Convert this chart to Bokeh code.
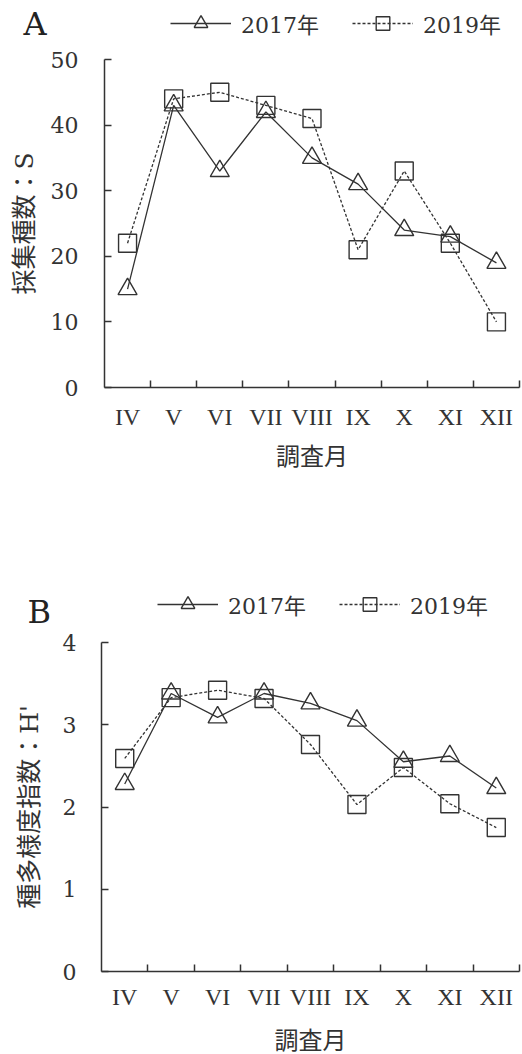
from bokeh.plotting import figure
from bokeh.models import FixedTicker, Legend, LegendItem, Label, Range1d
from bokeh.layouts import column
from bokeh.embed import file_html
from bokeh.resources import INLINE

months = ["IV", "V", "VI", "VII", "VIII", "IX", "X", "XI", "XII"]
a_2017 = [15, 43, 33, 42, 35, 31, 24, 23, 19]
a_2019 = [22, 44, 45, 43, 41, 21, 33, 22, 10]
b_2017 = [2.28, 3.38, 3.09, 3.38, 3.26, 3.05, 2.55, 2.62, 2.23]
b_2019 = [2.59, 3.33, 3.42, 3.32, 2.76, 2.03, 2.48, 2.04, 1.75]
a_ticks = [0, 10, 20, 30, 40, 50]
b_ticks = [0, 1, 2, 3, 4]
series_labels = ["2017年", "2019年"]
x_label = "調査月"

NUM_FONT = "DejaVu Serif, Noto Sans CJK JP"
ROMAN_FONT = "Liberation Serif, Noto Sans CJK JP"
INK = "#333333"
W = 522

LINE17 = dict(line_color=INK, line_width=1.3)
LINE19 = dict(line_color=INK, line_width=1.3, line_dash="3 2")
MARK17 = dict(marker="triangle", size=19, line_color=INK, line_width=1.4, fill_color=None)
MARK19 = dict(marker="square", size=18, line_color=INK, line_width=1.4, fill_color=None)


def panel(letter, ylabel, s17, s19, yticks, height, ax_left, ax_right, ax_top,
          ax_bottom, ylab_standoff, ylab_label_standoff, xlab_standoff,
          xlab_label_standoff, legend_xy, letter_xy):
    n = len(months)
    xs = list(range(n))
    # map the axis box (pixels) to the full canvas so the frame covers it all
    kx = (ax_right - ax_left) / n
    x0 = -0.5 - ax_left / kx
    x1 = n - 0.5 + (W - ax_right) / kx
    ky = (ax_bottom - ax_top) / (yticks[-1] - yticks[0])
    y1 = yticks[-1] + ax_top / ky
    y0 = yticks[0] - (height - ax_bottom) / ky

    p = figure(width=W, height=height,
               min_border_left=0, min_border_right=0, min_border_top=0,
               min_border_bottom=0, x_range=Range1d(x0, x1),
               y_range=Range1d(y0, y1),
               output_backend="svg", toolbar_location=None)
    p.outline_line_color = None
    p.xgrid.grid_line_color = None
    p.ygrid.grid_line_color = None
    p.background_fill_color = "white"
    p.border_fill_color = "white"

    l1 = p.line(xs, s17, **LINE17)
    m1 = p.scatter(xs, s17, **MARK17)
    l2 = p.line(xs, s19, **LINE19)
    m2 = p.scatter(xs, s19, **MARK19)

    xa = p.xaxis[0]
    xa.fixed_location = yticks[0]
    xa.bounds = (-0.5, n - 0.5)
    xa.ticker = FixedTicker(ticks=xs, minor_ticks=[i + 0.5 for i in xs])
    xa.major_label_overrides = {i: m for i, m in enumerate(months)}
    xa.major_tick_in = 0
    xa.major_tick_out = 0
    xa.minor_tick_in = 7
    xa.minor_tick_out = 0
    xa.minor_tick_line_color = INK
    xa.minor_tick_line_width = 1.5
    xa.axis_line_color = INK
    xa.axis_line_width = 1.5
    xa.major_label_text_font = ROMAN_FONT
    xa.major_label_text_font_size = "24px"
    xa.major_label_text_color = INK
    xa.major_label_standoff = xlab_standoff
    xa.axis_label = x_label
    xa.axis_label_text_font = NUM_FONT
    xa.axis_label_text_font_style = "normal"
    xa.axis_label_text_font_size = "24px"
    xa.axis_label_text_color = INK
    xa.axis_label_standoff = xlab_label_standoff

    ya = p.yaxis[0]
    ya.fixed_location = -0.5
    ya.bounds = (yticks[0], yticks[-1])
    ya.ticker = FixedTicker(ticks=yticks, minor_ticks=[])
    ya.major_tick_in = 7
    ya.major_tick_out = 0
    ya.major_tick_line_color = INK
    ya.major_tick_line_width = 1.5
    ya.axis_line_color = INK
    ya.axis_line_width = 1.5
    ya.major_label_text_font = NUM_FONT
    ya.major_label_text_font_size = "22px"
    ya.major_label_text_color = INK
    ya.major_label_standoff = ylab_standoff
    ya.axis_label = ylabel
    ya.axis_label_text_font = NUM_FONT
    ya.axis_label_text_font_style = "normal"
    ya.axis_label_text_font_size = "25px"
    ya.axis_label_text_color = INK
    ya.axis_label_standoff = ylab_label_standoff

    legend = Legend(items=[LegendItem(label=series_labels[0], renderers=[l1, m1]),
                           LegendItem(label=series_labels[1], renderers=[l2, m2])],
                    orientation="horizontal", location=legend_xy,
                    glyph_width=61, glyph_height=34, label_standoff=10,
                    spacing=33, padding=0, margin=0, border_line_color=None,
                    background_fill_alpha=0, label_text_font=NUM_FONT,
                    label_text_font_size="22px", label_text_color=INK)
    p.add_layout(legend)
    p.add_layout(Label(x=letter_xy[0], y=letter_xy[1], x_units="screen",
                       y_units="screen", text=letter, text_font=NUM_FONT,
                       text_font_size="32px", text_color="#222222",
                       text_baseline="middle", text_align="left"))
    return p


HA = 583
pA = panel("A", "採集種数：S", a_2017, a_2019, a_ticks, height=HA,
           ax_left=104, ax_right=519, ax_top=59, ax_bottom=387,
           ylab_standoff=26, ylab_label_standoff=9, xlab_standoff=16,
           xlab_label_standoff=10, legend_xy=(170, HA - 40),
           letter_xy=(23, HA - 23))
HB = 1054 - HA
pB = panel("B", "種多様度指数：H'", b_2017, b_2019, b_ticks, height=HB,
           ax_left=101, ax_right=519, ax_top=642 - HA, ax_bottom=971 - HA,
           ylab_standoff=25, ylab_label_standoff=16, xlab_standoff=12,
           xlab_label_standoff=14, legend_xy=(157, HB - (621 - HA)),
           letter_xy=(27, HB - (611 - HA)))

layout = column(pA, pB, spacing=0)
open("out.html", "w").write(file_html(layout, INLINE))
